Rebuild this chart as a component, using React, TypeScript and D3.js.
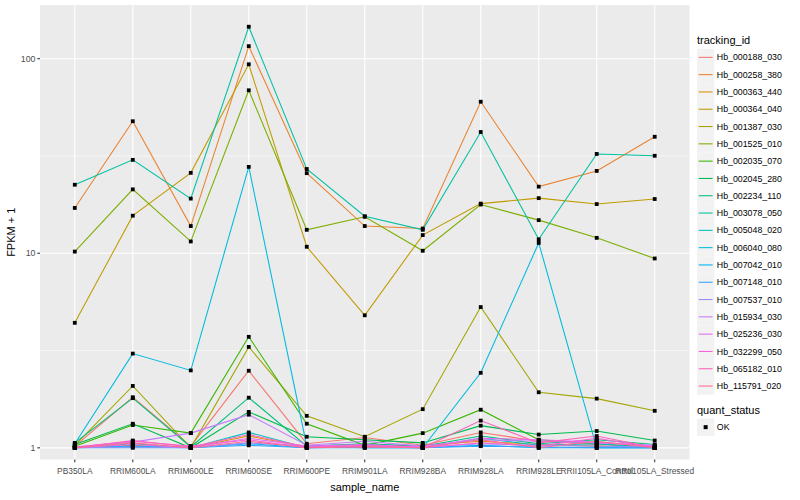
import React from "react";
import * as d3 from "d3";

const samples = [
  "PB350LA", "RRIM600LA", "RRIM600LE", "RRIM600SE", "RRIM600PE", "RRIM901LA",
  "RRIM928BA", "RRIM928LA", "RRIM928LE", "RRII105LA_Control", "RRII105LA_Stressed",
];

const trackingIds = [
  "Hb_000188_030", "Hb_000258_380", "Hb_000363_440", "Hb_000364_040", "Hb_001387_030",
  "Hb_001525_010", "Hb_002035_070", "Hb_002045_280", "Hb_002234_110", "Hb_003078_050",
  "Hb_005048_020", "Hb_006040_080", "Hb_007042_010", "Hb_007148_010", "Hb_007537_010",
  "Hb_015934_030", "Hb_025236_030", "Hb_032299_050", "Hb_065182_010", "Hb_115791_020",
];

// FPKM + 1 per tracking id, per sample (order of `samples`)
const s000188 = [1.02, 1.82, 1.02, 2.49, 1.05, 1.13, 1.03, 1.2, 1.08, 1.04, 1.01];
const s000258 = [17.1, 47.7, 13.8, 116, 25.8, 13.8, 13.4, 60.1, 22.0, 26.5, 39.7];
const s000363 = [1.0, 1.03, 1.0, 1.15, 1.01, 1.02, 1.03, 1.08, 1.04, 1.02, 1.0];
const s000364 = [4.39, 15.6, 25.9, 93.6, 10.8, 4.8, 12.4, 18.0, 19.2, 17.9, 19.0];
const s001387 = [1.03, 2.08, 1.0, 3.3, 1.46, 1.14, 1.58, 5.29, 1.93, 1.79, 1.55];
const s001525 = [10.2, 21.3, 11.5, 68.8, 13.2, 15.4, 10.3, 17.8, 14.8, 12.0, 9.4];
const s002035 = [1.02, 1.31, 1.19, 3.72, 1.33, 1.03, 1.19, 1.57, 1.1, 1.05, 1.0];
const s002045 = [1.04, 1.33, 1.0, 1.53, 1.14, 1.1, 1.06, 1.3, 1.17, 1.22, 1.09];
const s002234 = [1.06, 1.8, 1.01, 1.81, 1.02, 1.05, 1.02, 1.15, 1.05, 1.1, 1.04];
const s003078 = [22.5, 30.2, 19.1, 146, 27.1, 15.5, 13.2, 42.0, 11.8, 32.4, 31.7];
const s005048 = [1.0, 1.05, 1.0, 1.2, 1.0, 1.02, 1.0, 1.12, 1.03, 1.05, 1.0];
const s006040 = [1.05, 3.05, 2.5, 27.8, 1.02, 1.0, 1.0, 2.43, 11.3, 1.0, 1.0];
const s007042 = [1.0, 1.02, 1.0, 1.05, 1.0, 1.0, 1.0, 1.03, 1.0, 1.0, 1.0];
const s007148 = [1.0, 1.0, 1.0, 1.03, 1.0, 1.01, 1.0, 1.02, 1.01, 1.0, 1.0];
const s007537 = [1.0, 1.01, 1.0, 1.06, 1.02, 1.02, 1.01, 1.05, 1.03, 1.02, 1.01];
const s015934 = [1.01, 1.07, 1.19, 1.48, 1.03, 1.08, 1.02, 1.1, 1.08, 1.06, 1.03];
const s025236 = [1.0, 1.04, 1.0, 1.12, 1.02, 1.04, 1.01, 1.12, 1.1, 1.07, 1.02];
const s032299 = [1.01, 1.08, 1.02, 1.1, 1.0, 1.03, 1.0, 1.06, 1.02, 1.12, 1.0];
const s065182 = [1.0, 1.09, 1.01, 1.17, 1.01, 1.02, 1.0, 1.38, 1.06, 1.15, 1.0];
const s115791 = [1.0, 1.06, 1.0, 1.08, 1.0, 1.01, 1.0, 1.1, 1.0, 1.08, 1.0];

const seriesValues = [
  s000188, s000258, s000363, s000364, s001387, s001525, s002035, s002045, s002234, s003078,
  s005048, s006040, s007042, s007148, s007537, s015934, s025236, s032299, s065182, s115791,
];

const yTicks = [1, 10, 100];
const yMinor = [Math.sqrt(10), Math.sqrt(1000)];

const palette = [
  "#F8766D", "#EA8331", "#D89000", "#C09B00", "#A3A500", "#7CAE00", "#39B600", "#00BB4E",
  "#00BF7D", "#00C1A3", "#00BFC4", "#00BAE0", "#00B0F6", "#35A2FF", "#9590FF", "#C77CFF",
  "#E76BF3", "#FA62DB", "#FF62BC", "#FF6C91",
];

const W = 800;
const H = 500;
const P = { left: 40, right: 689.5, top: 5, bottom: 459.5 };
const FONT = "'Liberation Sans', Arial, Helvetica, sans-serif";

export default function App() {
  const x = d3.scalePoint<string>().domain(samples).range([P.left, P.right]).padding(0.6);
  const y = d3
    .scaleLog()
    .domain([Math.pow(10, -0.06), Math.pow(10, 2.276)])
    .range([P.bottom, P.top]);

  const line = d3
    .line<number>()
    .x((_, i) => x(samples[i]) as number)
    .y((v) => y(v));

  const keyH = 17.3;
  const legendX = 697;
  const firstKey = 48.7;

  return (
    <svg width={W} height={H} style={{ position: "absolute", left: 0, top: 0, background: "#fff" }}>
      <rect x={0} y={0} width={W} height={H} fill="#fff" />
      <rect x={P.left} y={P.top} width={P.right - P.left} height={P.bottom - P.top} fill="#EBEBEB" />
      {yMinor.map((t) => (
        <line key={"m" + t} x1={P.left} x2={P.right} y1={y(t)} y2={y(t)} stroke="#fff" strokeWidth={0.55} />
      ))}
      {yTicks.map((t) => (
        <line key={"g" + t} x1={P.left} x2={P.right} y1={y(t)} y2={y(t)} stroke="#fff" strokeWidth={1.1} />
      ))}
      {samples.map((s) => (
        <line key={"gx" + s} x1={x(s)} x2={x(s)} y1={P.top} y2={P.bottom} stroke="#fff" strokeWidth={1.1} />
      ))}

      {seriesValues.map((vals, i) => (
        <path key={"l" + i} d={line(vals) || ""} fill="none" stroke={palette[i]} strokeWidth={1.07} />
      ))}
      {seriesValues.map((vals, i) =>
        vals.map((v, j) => (
          <rect
            key={"p" + i + "-" + j}
            x={(x(samples[j]) as number) - 1.9}
            y={y(v) - 1.9}
            width={3.8}
            height={3.8}
            fill="#000"
          />
        ))
      )}

      {/* y axis */}
      {yTicks.map((t) => (
        <g key={"yt" + t}>
          <line x1={P.left - 2.7} x2={P.left} y1={y(t)} y2={y(t)} stroke="#333" strokeWidth={1.07} />
          <text
            x={P.left - 4.5}
            y={y(t)}
            dy="0.35em"
            textAnchor="end"
            fontFamily={FONT}
            fontSize={8.8}
            fill="#4D4D4D"
          >
            {t}
          </text>
        </g>
      ))}
      {/* x axis */}
      {samples.map((s) => (
        <g key={"xt" + s}>
          <line x1={x(s)} x2={x(s)} y1={P.bottom} y2={P.bottom + 2.7} stroke="#333" strokeWidth={1.07} />
          <text
            x={x(s)}
            y={P.bottom + 14.5}
            textAnchor="middle"
            fontFamily={FONT}
            fontSize={8.4}
            fill="#4D4D4D"
          >
            {s}
          </text>
        </g>
      ))}
      <text x={(P.left + P.right) / 2} y={491} textAnchor="middle" fontFamily={FONT} fontSize={11} fill="#000">
        sample_name
      </text>
      <text
        transform={`translate(15,${(P.top + P.bottom) / 2}) rotate(-90)`}
        textAnchor="middle"
        fontFamily={FONT}
        fontSize={11}
        fill="#000"
      >
        FPKM + 1
      </text>

      {/* legend: tracking_id */}
      <text x={legendX} y={44} fontFamily={FONT} fontSize={11} fill="#000">
        tracking_id
      </text>
      {trackingIds.map((id, i) => {
        const ky = firstKey + i * keyH;
        return (
          <g key={"lg" + id}>
            <rect x={legendX} y={ky} width={keyH} height={keyH} fill="#F2F2F2" />
            <line
              x1={legendX + 1.7}
              x2={legendX + keyH - 1.7}
              y1={ky + keyH / 2}
              y2={ky + keyH / 2}
              stroke={palette[i]}
              strokeWidth={1.07}
            />
            <text
              x={legendX + keyH + 2.5}
              y={ky + keyH / 2}
              dy="0.35em"
              fontFamily={FONT}
              fontSize={8.8}
              fill="#000"
            >
              {id}
            </text>
          </g>
        );
      })}

      {/* legend: quant_status */}
      <text x={legendX} y={414} fontFamily={FONT} fontSize={11} fill="#000">
        quant_status
      </text>
      <rect x={legendX} y={418.5} width={keyH} height={keyH} fill="#F2F2F2" />
      <rect x={legendX + keyH / 2 - 2} y={418.5 + keyH / 2 - 2} width={4} height={4} fill="#000" />
      <text x={legendX + keyH + 2.5} y={418.5 + keyH / 2} dy="0.35em" fontFamily={FONT} fontSize={8.8} fill="#000">
        OK
      </text>
    </svg>
  );
}
